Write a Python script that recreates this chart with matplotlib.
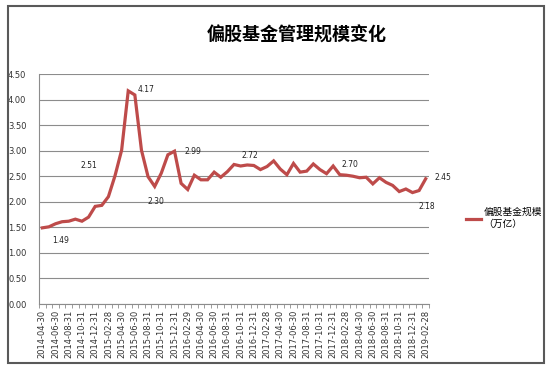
import numpy as np
import pandas as pd
import matplotlib
matplotlib.use("Agg")
import matplotlib.pyplot as plt
from matplotlib.patches import Rectangle

plt.rcParams['font.family'] = ['DejaVu Sans', 'Noto Sans CJK SC']

# month-end dates 2014-04 .. 2019-02
dates = pd.date_range("2014-04-30", "2019-02-28", freq="ME").strftime("%Y-%m-%d").tolist()

# equity-fund AUM (trillion yuan)
aum = [1.49, 1.51, 1.57, 1.61, 1.62, 1.66, 1.62, 1.70, 1.91, 1.93,
       2.10, 2.51, 3.01, 4.17, 4.09, 3.01, 2.49, 2.30, 2.56, 2.92,
       2.99, 2.36, 2.24, 2.52, 2.43, 2.43, 2.58, 2.48, 2.59, 2.73,
       2.70, 2.72, 2.71, 2.63, 2.69, 2.80, 2.64, 2.53, 2.75, 2.58,
       2.60, 2.74, 2.63, 2.55, 2.70, 2.53, 2.52, 2.50, 2.47, 2.48,
       2.35, 2.47, 2.38, 2.32, 2.20, 2.25, 2.18, 2.22, 2.45]

# which points carry a data label, and where the text sits (offset in points)
label_idx = [0, 11, 13, 17, 20, 31, 44, 56, 58]
label_off = [(7, -9), (-19, 7), (7, 1), (1, -11), (7, 0), (2, 7), (6, 1), (4, -10), (6, 1)]

title = "偏股基金管理规模变化"
legend_label = "偏股基金规模\n（万亿）"
line_color = "#BE4B4A"

fig = plt.figure(figsize=(5.49, 3.69), dpi=100)
fig.patch.set_facecolor("white")
fig.patches.append(Rectangle((8 / 549, 6 / 369), 536 / 549, 357 / 369,
                             transform=fig.transFigure, fill=False,
                             edgecolor="#595959", linewidth=1.5))

ax = fig.add_axes([39 / 549, 65 / 369, 390 / 549, 230 / 369])
x = np.arange(len(dates))
line, = ax.plot(x, aum, color=line_color, linewidth=2.3, solid_joinstyle="miter")

for i, (dx, dy) in zip(label_idx, label_off):
    ax.annotate(f"{aum[i]:.2f}", (x[i], aum[i]), xytext=(dx, dy),
                textcoords="offset points", fontsize=5.5, color="#222222",
                ha="left" if dx > 3 else "center", va="center")

ax.set_xlim(-0.5, len(dates) - 0.5)
ax.set_ylim(0, 4.5)
ax.set_yticks(np.arange(0, 4.51, 0.5))
ax.set_yticklabels([f"{v:.2f}" for v in np.arange(0, 4.51, 0.5)], fontsize=6, color="#333333")
ax.yaxis.grid(True, color="#8C8C8C", linewidth=0.8)
ax.set_axisbelow(True)

ax.set_xticks(x[::2])
ax.set_xticklabels(dates[::2], rotation=90, fontsize=6, color="#333333")
ax.set_xticks(np.arange(-0.5, len(dates), 1), minor=True)
ax.tick_params(axis="x", which="major", length=0, pad=4)
ax.tick_params(axis="x", which="minor", length=3, color="#8C8C8C", width=0.6)
ax.tick_params(axis="y", length=0, pad=9)

for s in ["top", "right"]:
    ax.spines[s].set_visible(False)
ax.spines["left"].set_color("#8C8C8C")
ax.spines["bottom"].set_color("#8C8C8C")
ax.spines["left"].set_linewidth(0.8)
ax.spines["bottom"].set_linewidth(0.8)

fig.text(297 / 549, 1 - 35 / 369, title, ha="center", va="center",
         fontsize=13, fontweight="bold", family=["Noto Sans CJK SC", "DejaVu Sans"])

fig.legend([line], [legend_label], loc="center left",
           bbox_to_anchor=(462 / 549, 1 - 218 / 369), frameon=False,
           handlelength=1.6, handletextpad=0.2, borderaxespad=0,
           prop={"family": "Noto Sans CJK SC", "size": 7})

fig.savefig("out.png", dpi=100)
